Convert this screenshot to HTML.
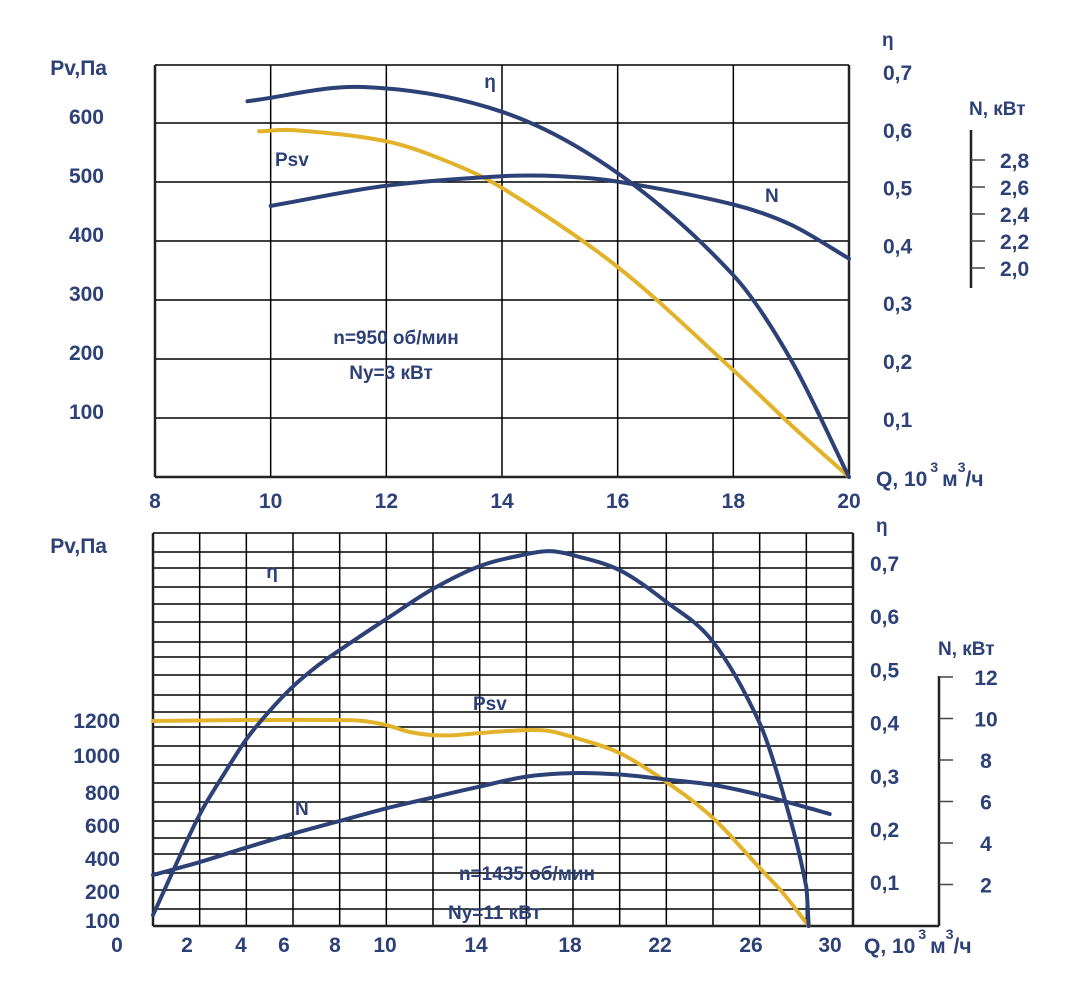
<!DOCTYPE html>
<html><head><meta charset="utf-8"><style>
body{margin:0;background:#fff;width:1071px;height:990px;overflow:hidden}
svg text{font-family:"Liberation Sans",sans-serif;font-weight:bold;fill:#2d4177}
</style></head><body>
<svg id="chart" width="1071" height="990" viewBox="0 0 1071 990" xmlns="http://www.w3.org/2000/svg"></svg>
<script>
// ---- Top chart data (n=950) ----
const topQTicks=[8,10,12,14,16,18,20];
const topPvTicks=[100,200,300,400,500,600];
const topEtaTicks=[0.1,0.2,0.3,0.4,0.5,0.6,0.7];
const topNTicks=[2.0,2.2,2.4,2.6,2.8];
const topEtaQ=[9.6,11.6,14,16,18,19,20];
const topEtaV=[0.637,0.661,0.619,0.515,0.342,0.198,0];
const topNQ=[10,12,14,15,16,18,19,20];
const topNV=[2.46,2.61,2.68,2.68,2.64,2.47,2.32,2.07];
const topPsvQ=[9.8,10.4,12,13,14,16,18,19,20];
const topPsvV=[586,588,569,537,490,356,181,88,0];
// ---- Bottom chart data (n=1435) ----
const botQTicks=[0,2,4,6,8,10,14,18,22,26,30];
const botPvTicks=[100,200,400,600,800,1000,1200];
const botEtaTicks=[0.1,0.2,0.3,0.4,0.5,0.6,0.7];
const botNTicks=[2,4,6,8,10,12];
const botEtaQ=[0,1,2,3,4,5,6,7,8,10,12,14,16,17,18,20,22,24,26,27,28,28.1];
const botEtaV=[0.021,0.12,0.215,0.29,0.36,0.415,0.462,0.5,0.532,0.592,0.65,0.694,0.717,0.723,0.715,0.686,0.625,0.548,0.391,0.256,0.075,0];
const botNQ=[0,2,4,6,8,10,12,14,16,18,20,22,24,26,28,29];
const botNV=[2.46,3.08,3.78,4.45,5.06,5.67,6.2,6.72,7.2,7.37,7.3,7.06,6.8,6.32,5.72,5.4];
const botPsvQ=[0,4,8,9,10,11,12,13,14,16,17,18,20,22,24,26,27,28.1];
const botPsvV=[1194,1200,1200,1194,1170,1130,1112,1112,1124,1141,1135,1100,1007,839,629,338,192,0];

const svg=document.getElementById('chart');
const NS='http://www.w3.org/2000/svg';
const NAVY='#2d4177', GOLD='#e2b22a';
function el(tag,attrs,parent){const e=document.createElementNS(NS,tag);for(const k in attrs)e.setAttribute(k,attrs[k]);(parent||svg).appendChild(e);return e;}
function txt(x,y,s,size,anchor,name){const t=el('text',{x:x,y:y,'font-size':size,'text-anchor':anchor||'start'});t.textContent=s;


return t;}
function smooth(pts){const n=pts.length,m=[];
for(let i=0;i<n;i++){const a=pts[Math.max(0,i-1)],b=pts[Math.min(n-1,i+1)];m.push((b[1]-a[1])/(b[0]-a[0]));}
let d='M'+pts[0][0].toFixed(1)+','+pts[0][1].toFixed(1);
for(let i=0;i<n-1;i++){const p1=pts[i],p2=pts[i+1],h=(p2[0]-p1[0])/3;
d+=' C'+(p1[0]+h).toFixed(1)+','+(p1[1]+m[i]*h).toFixed(1)+' '+(p2[0]-h).toFixed(1)+','+(p2[1]-m[i+1]*h).toFixed(1)+' '+p2[0].toFixed(1)+','+p2[1].toFixed(1);}return d;}
function curve(qs,vs,xs,ys,color,name){const p=el('path',{d:smooth(qs.map((q,i)=>[xs(q),ys(vs[i])])),fill:'none',stroke:color,'stroke-width':4,'stroke-linecap':'round'});

}
function line(x1,y1,x2,y2,w,c,name){const l=el('line',{x1:x1,y1:y1,x2:x2,y2:y2,stroke:c||'#000','stroke-width':w||1.5});

}
function qTitle(x,y,name){const t=el('text',{x:x,y:y,'font-size':21});


const parts=[['Q, 10',0],['3',-14],['м',14],['3',-14],['/ч',14]];
parts.forEach(([s,dy],i)=>{const sp=el('tspan',{dy:dy,'font-size':(s==='3'?14:21),dx:(i===1?3:i===2?4:0)},t);sp.textContent=s;});}

// ===== TOP CHART =====
const tx=q=>155+(q-8)*(849-155)/12;
const tyPv=v=>477-v*0.59;
const tyEta=v=>477-v*590;
const tyN=v=>268-(v-2)*135;
for(let i=1;i<=6;i++)line(155,tyPv(i*100),849,tyPv(i*100),1.5,'#000','top-grid-h');
line(155,65,849,65,1.5,'#000','top-grid-top');
for(const q of [10,12,14,16,18])line(tx(q),65,tx(q),477,1.5,'#000','top-grid-v');
line(155,65,155,477,2.5,'#222','top-left-axis');
line(849,65,849,477,2.5,'#222','top-right-axis');
line(155,477,849,477,2.5,'#222','top-bottom-axis');
topQTicks.forEach(q=>txt(tx(q),508,String(q),21,'middle','top-x-tick'));
topPvTicks.forEach(v=>txt(104,tyPv(v)+1,String(v),21,'end','top-pv-tick'));
txt(107,75,'Pv,Па',21,'end','top-pv-axis-title');
topEtaTicks.forEach(v=>txt(883,72+(0.7-v)*578+8,v.toFixed(1).replace('.',','),21,'start','top-eta-tick'));
txt(882,46,'η',19,'start','top-eta-axis-title');
line(971,130,971,288,2.5,'#222','top-n-axis');
topNTicks.forEach(v=>{line(971,tyN(v),985,tyN(v),1.5,'#444','top-n-tick-mark');txt(1000,tyN(v)+8,v.toFixed(1).replace('.',','),21,'start','top-n-tick');});
txt(969,115,'N, кВт',19,'start','top-n-axis-title');
curve(topPsvQ,topPsvV,tx,tyPv,GOLD,'top-psv-curve');
curve(topEtaQ,topEtaV,tx,tyEta,NAVY,'top-eta-curve');
curve(topNQ,topNV,tx,tyN,NAVY,'top-n-curve');
txt(490,88,'η',19,'middle','top-eta-label');
txt(275,166,'Psv',19,'start','top-psv-label');
txt(765,202,'N',19,'start','top-n-label');
txt(396,344,'n=950 об/мин',19,'middle','top-speed-note');
txt(391,379,'Ny=3 кВт',19,'middle','top-power-note');
qTitle(876,486,'top-x-axis-title');

// ===== BOTTOM CHART =====
const bx=q=>153+q*(853-153)/30;
const byEta=v=>926-v*518.6;
const byN=v=>926-v*20.75;
const byPv=v=>926-v*0.1717;
const hl=[552,568,587,604,622,642,657,675,695,712,727,746,765,783,802,821,838,854,873,890,909];
hl.forEach(y=>line(153,y,853,y,1.5,'#000','bottom-grid-h'));
line(153,533,853,533,1.5,'#000','bottom-grid-top');
for(let q=2;q<30;q+=2)line(bx(q),533,bx(q),926,1.5,'#000','bottom-grid-v');
line(153,533,153,926,2.5,'#222','bottom-left-axis');
line(853,533,853,926,2.5,'#222','bottom-right-axis');
line(153,926,939,926,2.5,'#222','bottom-bottom-axis');
const bLabX={0:117,2:187,4:241,6:284,8:335,10:385,14:476,18:570,22:660,26:751,30:830};
botQTicks.forEach(q=>txt(bLabX[q],952,String(q),21,'middle','bottom-x-tick'));
const pvLabY={100:920,200:891,400:858,600:825,800:792,1000:755,1200:720};
botPvTicks.forEach(v=>txt(120,pvLabY[v]+8,String(v),21,'end','bottom-pv-tick'));
txt(107,553,'Pv,Па',21,'end','bottom-pv-axis-title');
botEtaTicks.forEach(v=>txt(870,563+(0.7-v)*532+8,v.toFixed(1).replace('.',','),21,'start','bottom-eta-tick'));
txt(876,532,'η',19,'start','bottom-eta-axis-title');
line(939,676,939,926,2.5,'#222','bottom-n-axis');
botNTicks.forEach(v=>{line(939,byN(v),953,byN(v),1.5,'#444','bottom-n-tick-mark');txt(986,byN(v)+8,String(v),21,'middle','bottom-n-tick');});
txt(938,655,'N, кВт',19,'start','bottom-n-axis-title');
curve(botPsvQ,botPsvV,bx,byPv,GOLD,'bottom-psv-curve');
curve(botEtaQ,botEtaV,bx,byEta,NAVY,'bottom-eta-curve');
curve(botNQ,botNV,bx,byN,NAVY,'bottom-n-curve');
txt(272,578,'η',19,'middle','bottom-eta-label');
txt(473,710,'Psv',19,'start','bottom-psv-label');
txt(295,815,'N',19,'start','bottom-n-label');
txt(527,880,'n=1435 об/мин',19,'middle','bottom-speed-note');
txt(448,919,'Ny=11 кВт',19,'start','bottom-power-note');
qTitle(864,953,'bottom-x-axis-title');
</script>
</body></html>
